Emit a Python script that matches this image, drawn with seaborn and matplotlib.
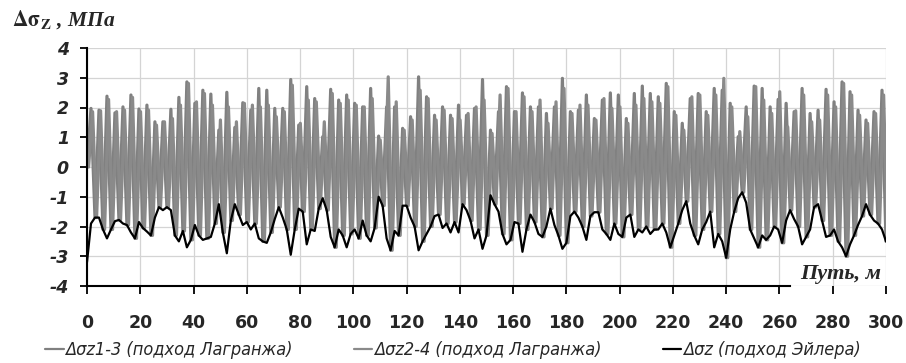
import numpy as np
import pandas as pd
import seaborn as sns
import matplotlib.pyplot as plt

# шаг сетки по пути, м (впадины на 0, 3, 6 ..., пики на 1.5, 4.5 ...)
step = 1.5
shift_24 = 0.6  # смещение второй кривой Лагранжа

# Δσz (подход Эйлера), значения через каждые 1.5 м, 0..300
black = [
    -3.2, -1.9, -1.7, -1.7, -2.1, -2.4, -2.1, -1.82, -1.78, -1.9, -1.95, -2.2, -2.4, -1.85, -2.05,
    -2.17, -2.3, -1.7, -1.35, -1.45, -1.35, -1.45, -2.3, -2.5, -2.15, -2.7, -2.45, -1.95, -2.3,
    -2.45, -2.4, -2.35, -1.9, -1.25, -2.2, -2.9, -1.8, -1.25, -1.6, -1.95, -1.85, -2.1, -1.9, -2.4,
    -2.5, -2.55, -2.2, -1.75, -1.35, -1.7, -2.1, -2.95, -2.1, -1.4, -1.5, -2.6, -2.1, -2.15,
    -1.4, -1.05, -1.45, -2.35, -2.7, -2.1, -2.3, -2.7, -2.25, -2.1, -2.4, -1.8, -2.3, -2.5,
    -2.05, -1.0, -1.3, -2.4, -2.8, -2.15, -2.3, -1.3, -1.3, -1.7, -2.0, -2.8, -2.5, -2.25,
    -2.0, -1.65, -1.6, -2.05, -1.9, -2.2, -1.85, -2.2, -1.25, -1.45, -1.8, -2.4, -2.1, -2.75,
    -2.3, -0.95, -1.25, -1.5, -2.25, -2.6, -2.45, -1.85, -1.9, -2.85, -2.1, -1.6, -1.85, -2.25,
    -2.35, -2.0, -1.4, -1.95, -2.3, -2.75, -2.55, -1.65, -1.5, -1.7, -2.0, -2.45, -1.65, -1.52,
    -1.52, -2.1, -2.25, -2.45, -1.9, -2.25, -2.35, -1.7, -1.6, -2.35, -2.1, -2.2, -2.0, -2.25, -2.1,
    -2.1, -1.9, -2.2, -2.7, -2.3, -1.9, -1.45, -1.15, -1.9, -2.3, -2.6, -2.1, -1.85, -1.5, -2.7,
    -2.25, -2.5, -3.05, -2.1, -1.5, -1.05, -0.85, -1.2, -2.1, -2.4, -2.7, -2.3, -2.45, -2.3,
    -2.0, -2.1, -2.55, -1.8, -1.45, -1.75, -2.0, -2.6, -2.35, -2.1, -1.35, -1.25, -1.8, -2.35,
    -2.3, -2.1, -2.5, -2.7, -3.0, -2.6, -2.3, -1.95, -1.65, -1.25, -1.6, -1.8, -1.9, -2.1, -2.5,
]

# пики Δσz1-3 (подход Лагранжа)
peaks_13 = [
    1.97, 1.91, 2.38, 1.82, 2.02, 2.42, 1.95, 2.08, 1.52, 1.52, 1.94, 2.34, 2.86, 2.14,
    2.58, 2.45, 1.24, 2.51, 1.33, 2.16, 1.91, 2.64, 2.58, 1.97, 1.97, 2.94, 1.41, 2.70,
    2.30, 1.02, 2.61, 2.25, 2.42, 2.14, 2.02, 2.64, 1.04, 2.02, 2.02, 1.30, 1.69, 3.03,
    2.36, 1.74, 2.02, 1.74, 2.08, 1.74, 1.97, 2.94, 1.24, 1.86, 2.70, 1.86, 2.49, 2.02, 2.02,
    1.80, 2.02, 2.98, 1.86, 1.91, 2.42, 1.63, 2.25, 2.49, 2.42, 1.63, 2.47, 2.72, 2.47,
    2.36, 2.81, 1.86, 1.47, 2.30, 2.47, 1.86, 2.64, 2.58, 2.14, 1.02, 2.02, 2.72, 2.64,
    2.02, 2.27, 2.14, 1.86, 2.64, 1.80, 1.91, 2.61, 2.19, 2.86, 2.53, 1.91, 1.58, 1.86, 2.58,
]

# пики Δσz2-4 (подход Лагранжа)
peaks_24 = [
    1.86, 1.89, 2.27, 1.86, 1.91, 2.34, 1.86, 1.91, 1.41, 1.52, 1.63, 2.08, 2.81, 2.19,
    2.47, 2.08, 1.58, 2.02, 1.52, 2.14, 2.08, 2.02, 2.08, 1.69, 1.86, 2.75, 1.47, 2.25,
    2.19, 1.52, 2.47, 2.14, 2.25, 2.08, 2.02, 2.30, 0.91, 3.03, 2.19, 1.24, 1.58, 2.58,
    2.30, 1.58, 1.91, 1.63, 1.58, 1.80, 2.02, 2.25, 1.13, 2.42, 2.64, 1.86, 2.36, 1.86, 2.25,
    1.47, 2.19, 2.64, 1.80, 2.08, 2.08, 1.58, 2.30, 1.97, 2.02, 1.47, 2.08, 2.30, 2.19,
    2.14, 2.70, 1.74, 1.24, 2.36, 2.42, 1.74, 2.42, 2.98, 2.02, 1.19, 1.69, 2.70, 2.25,
    1.80, 2.53, 1.35, 1.89, 2.42, 1.52, 1.58, 2.42, 2.02, 2.81, 2.42, 1.74, 1.47, 1.80, 2.42,
]

labels = ["Δσz1-3 (подход Лагранжа)", "Δσz2-4 (подход Лагранжа)", "Δσz (подход Эйлера)"]
x_ticks = list(range(0, 301, 20))
y_ticks = list(range(-4, 5))

# собираем таблицу
x = np.arange(len(black)) * step
troughs = np.array(black[::2])
troughs[0] = 0.0  # кривые Лагранжа стартуют с нуля
g13 = np.empty(len(black))
g13[::2] = troughs
g13[1::2] = peaks_13
g24 = np.empty(len(black))
g24[::2] = troughs
g24[1::2] = peaks_24
df = pd.DataFrame({"x": x, "g13": g13, "g24": g24, "euler": black})

sns.set_theme(style="white")
plt.rcParams["font.family"] = ["DejaVu Sans"]
plt.rcParams["axes.unicode_minus"] = False
plt.rcParams["mathtext.fontset"] = "stix"

fig = plt.figure(figsize=(9.06, 3.63), dpi=100)
ax = fig.add_axes([87 / 906, 1 - 286 / 363, 799 / 906, 238 / 363])

sns.lineplot(x=df["x"], y=df["g13"], ax=ax, color="#808080", lw=2.3, estimator=None, label=labels[0])
sns.lineplot(x=df["x"] + shift_24, y=df["g24"], ax=ax, color="#8a8a8a", lw=2.3, estimator=None, label=labels[1])
sns.lineplot(x=df["x"], y=df["euler"], ax=ax, color="black", lw=1.6, estimator=None, label=labels[2])

ax.set_xlim(0, 300)
ax.set_ylim(-4, 4)
ax.set_xticks(x_ticks)
ax.set_yticks(y_ticks)
ax.grid(True, color="#d4d4d4", lw=0.9)
ax.set_axisbelow(True)
ax.set_xlabel("")
ax.set_ylabel("")

for s in ["top", "right"]:
    ax.spines[s].set_visible(False)
ax.spines["left"].set_color("black")
ax.spines["left"].set_linewidth(1.5)
ax.spines["bottom"].set_color("black")
ax.spines["bottom"].set_linewidth(1.5)
ax.spines["bottom"].set_bounds(0, 264)

ax.tick_params(axis="y", left=True, length=5, width=1.3, color="black", pad=8)
ax.tick_params(axis="x", bottom=True, length=6, width=1.3, color="black", pad=14)
for t in ax.get_yticklabels():
    t.set_fontsize(12.5)
    t.set_fontweight("bold")
    t.set_fontstyle("italic")
for t in ax.get_xticklabels():
    t.set_fontsize(12.5)
    t.set_fontweight("bold")

ax.text(298, -3.6, "Путь, м", ha="right", va="center", fontsize=16,
        family=["Liberation Serif", "DejaVu Serif"], fontweight="bold", fontstyle="italic")

fig.text(0.013, 0.945, r"$\mathbf{\Delta\sigma_{Z}}$ , МПа", ha="left", va="center", fontsize=15.5,
         family=["Liberation Serif", "DejaVu Serif"], fontweight="bold", fontstyle="italic")

ax.get_legend().remove()
h, l = ax.get_legend_handles_labels()
leg = fig.legend(h, l, loc="center", bbox_to_anchor=(0.5, 0.036), ncol=3, frameon=False,
                 handlelength=1.0, handletextpad=0.1, columnspacing=3.4,
                 prop={"family": ["DejaVu Sans"], "style": "italic", "stretch": "condensed", "size": 13})
for ln in leg.get_lines():
    ln.set_linewidth(1.6)

fig.savefig("out.png", dpi=100)
